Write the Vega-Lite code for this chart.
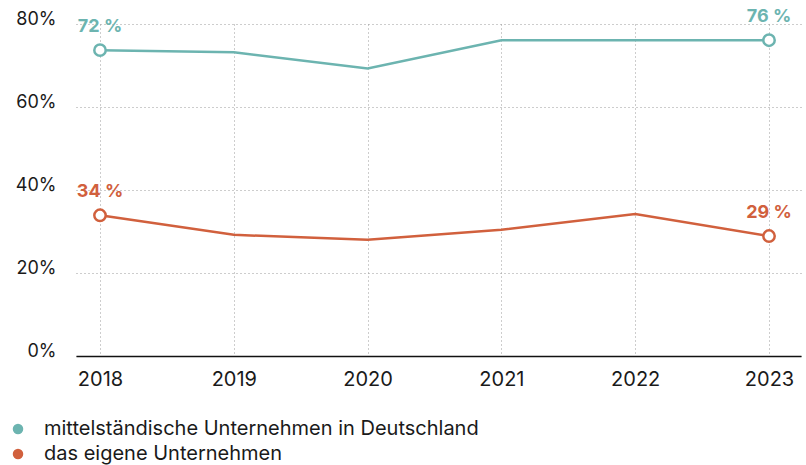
{
  "$schema": "https://vega.github.io/schema/vega-lite/v6.json",
  "width": 725,
  "height": 332,
  "autosize": {"type": "none"},
  "padding": {"left": 76, "top": 24, "right": 5, "bottom": 109},
  "background": "white",
  "config": {
    "view": {"stroke": null},
    "font": "Inter",
    "axis": {"labelFont": "Inter", "labelColor": "#1a1a1a"}
  },
  "data": {
    "values": [
      {"year": 2018, "series": "mittelständische Unternehmen in Deutschland", "value": 73.7, "label": "72 %"},
      {"year": 2019, "series": "mittelständische Unternehmen in Deutschland", "value": 73.2, "label": null},
      {"year": 2020, "series": "mittelständische Unternehmen in Deutschland", "value": 69.3, "label": null},
      {"year": 2021, "series": "mittelständische Unternehmen in Deutschland", "value": 76.1, "label": null},
      {"year": 2022, "series": "mittelständische Unternehmen in Deutschland", "value": 76.1, "label": null},
      {"year": 2023, "series": "mittelständische Unternehmen in Deutschland", "value": 76.1, "label": "76 %"},
      {"year": 2018, "series": "das eigene Unternehmen", "value": 33.9, "label": "34 %"},
      {"year": 2019, "series": "das eigene Unternehmen", "value": 29.2, "label": null},
      {"year": 2020, "series": "das eigene Unternehmen", "value": 28.0, "label": null},
      {"year": 2021, "series": "das eigene Unternehmen", "value": 30.4, "label": null},
      {"year": 2022, "series": "das eigene Unternehmen", "value": 34.2, "label": null},
      {"year": 2023, "series": "das eigene Unternehmen", "value": 28.9, "label": "29 %"}
    ]
  },
  "encoding": {
    "x": {
      "field": "year",
      "type": "quantitative",
      "scale": {"domain": [2017.8206, 2023.239], "nice": false, "zero": false},
      "axis": {
        "title": null,
        "values": [2018, 2019, 2020, 2021, 2022, 2023],
        "format": "d",
        "grid": true,
        "gridColor": "#9a9a9a",
        "gridDash": [1, 3],
        "gridWidth": 1,
        "ticks": false,
        "domainColor": "#111111",
        "domainWidth": 1.5,
        "labelFontSize": 20,
        "labelPadding": 13,
        "labelFlush": false
      }
    },
    "y": {
      "field": "value",
      "type": "quantitative",
      "scale": {"domain": [0, 80], "nice": false},
      "axis": {
        "title": null,
        "values": [0, 20, 40, 60, 80],
        "labelExpr": "datum.value + '%'",
        "grid": true,
        "gridColor": "#9a9a9a",
        "gridDash": [1, 3],
        "gridWidth": 1,
        "ticks": false,
        "domain": false,
        "labelFontSize": 18,
        "labelPadding": 20,
        "labelBaseline": "alphabetic",
        "labelFlush": false
      }
    },
    "color": {
      "field": "series",
      "type": "nominal",
      "scale": {
        "domain": ["mittelständische Unternehmen in Deutschland", "das eigene Unternehmen"],
        "range": ["#6cb4b0", "#d1603d"]
      },
      "legend": {
        "title": null,
        "orient": "none",
        "legendX": -68,
        "legendY": 395,
        "symbolType": "circle",
        "symbolSize": 110,
        "symbolStrokeWidth": 0,
        "labelFontSize": 20,
        "labelColor": "#1a1a1a",
        "labelOffset": 16,
        "rowPadding": 5,
        "labelLimit": 600
      }
    }
  },
  "layer": [
    {"mark": {"type": "line", "strokeWidth": 2.5}},
    {
      "transform": [{"filter": "datum.label != null"}],
      "mark": {"type": "point", "filled": false, "fill": "white", "size": 130, "strokeWidth": 2.5, "opacity": 1}
    },
    {
      "transform": [{"filter": "datum.label != null"}],
      "mark": {"type": "text", "fontWeight": "bold", "fontSize": 18, "dy": -18, "baseline": "alphabetic", "align": "center"},
      "encoding": {"text": {"field": "label"}}
    }
  ]
}
